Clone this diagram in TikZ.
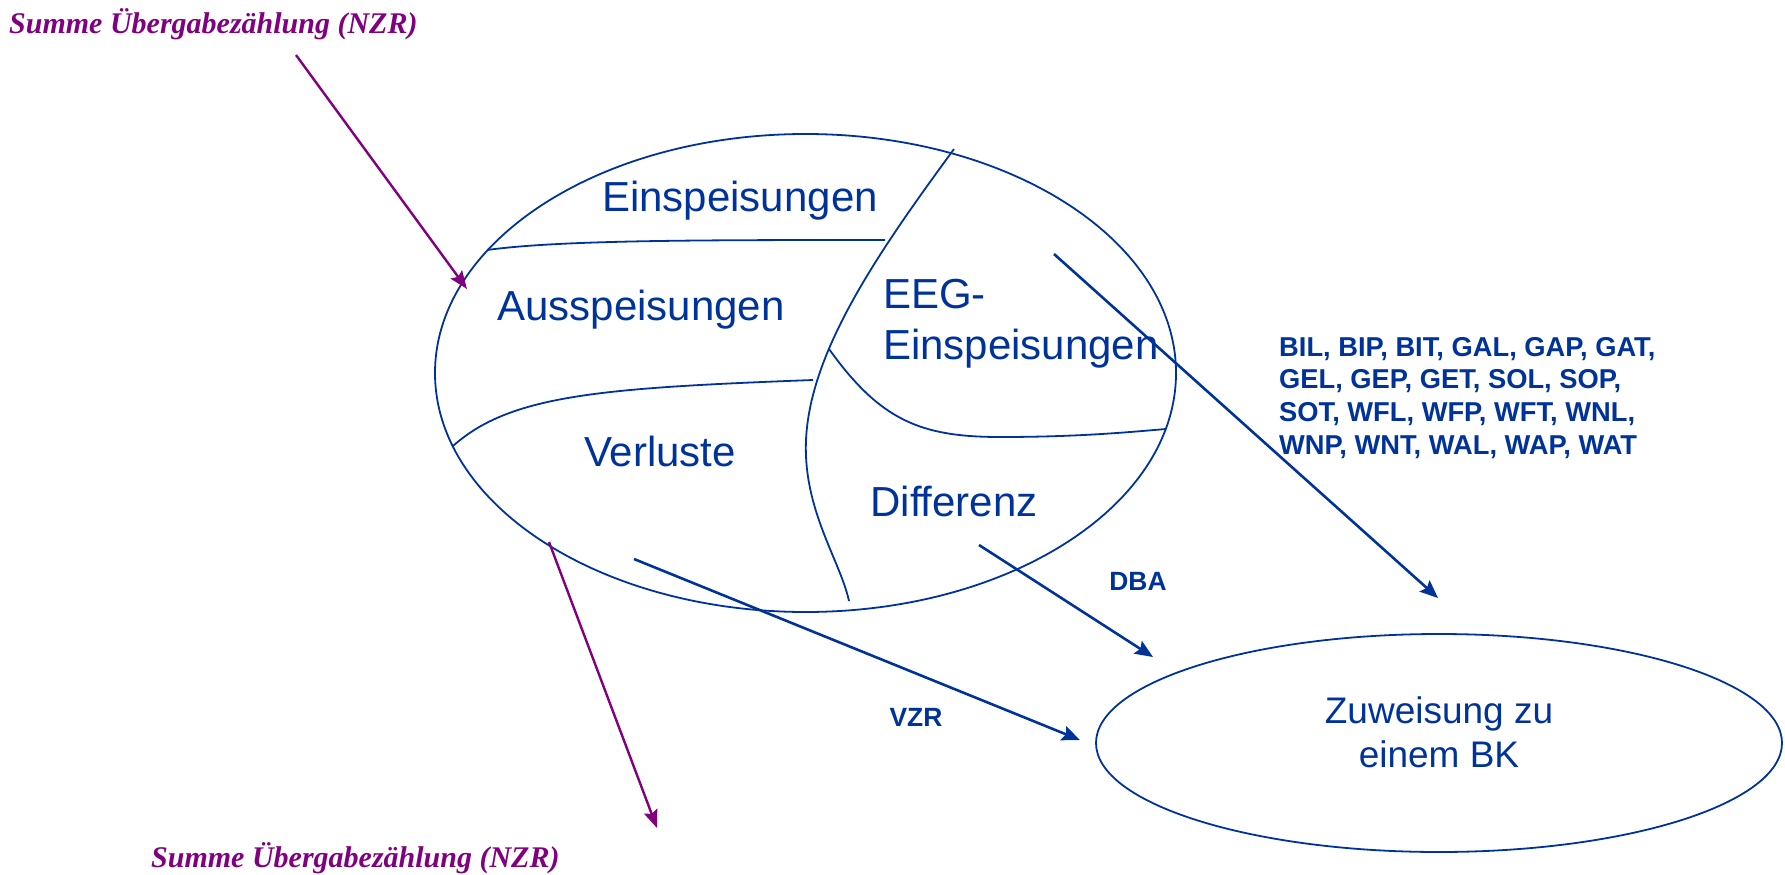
\documentclass[tikz,border=0pt]{standalone}
\usepackage{fontspec}
\setmainfont{Liberation Sans}
\newfontfamily\nzrfont{Liberation Serif}
\usetikzlibrary{arrows.meta,shapes.geometric}
\definecolor{navy}{RGB}{0,51,153}
\definecolor{lilac}{RGB}{128,0,128}
\tikzset{
  outline/.style={draw=navy, line width=1.8pt},
  divider/.style={draw=navy, line width=1.8pt},
  navyarrow/.style={draw=navy, line width=2.6pt, -{Stealth[length=18pt,width=15pt,inset=3pt]}},
  purplearrow/.style={draw=lilac, line width=2.4pt, -{Stealth[length=18pt,width=14pt,inset=3pt]}},
  region/.style={text=navy, font=\fontsize{42}{48}\selectfont, inner sep=0pt},
  codes/.style={text=navy, font=\bfseries\fontsize{27.3}{32.6}\selectfont, inner sep=0pt},
  shortcode/.style={text=navy, font=\bfseries\fontsize{26.4}{32.6}\selectfont, inner sep=0pt},
  nzr/.style={text=lilac, font=\nzrfont\bfseries\itshape\fontsize{30}{36}\selectfont, inner sep=0pt}
}
\begin{document}
\begin{tikzpicture}[x=1pt,y=-1pt]
\useasboundingbox (0,0) rectangle (1785,875);
% big ellipse
\node[ellipse, outline, minimum width=741pt, minimum height=478pt, inner sep=0pt, outer sep=0pt] (big) at (805.5,373) {};
% dividers
\draw[divider] (487,250) .. controls (560,240) and (700,240) .. (885,240);
\draw[divider] (954,149) .. controls (880,250) and (810,350) .. (806,440) .. controls (803,510) and (840,560) .. (849,601);
\draw[divider] (453,446) .. controls (510,395) and (600,388) .. (813,380);
\draw[divider] (829,349) .. controls (880,420) and (920,437) .. (1000,437) .. controls (1080,437) and (1130,432) .. (1166,429);
% region labels
\node[region, anchor=base] (einsp) at (740,211) {Einspeisungen};
\node[region, anchor=base] (aussp) at (641,320) {Ausspeisungen};
\node[region, anchor=base west] (eeg1) at (883,308) {EEG-};
\node[region, anchor=base west] (eeg2) at (883,359) {Einspeisungen};
\node[region, anchor=base] (verl) at (660,466) {Verluste};
\node[region, anchor=base] (diff) at (954,516) {Differenz};
% assignment ellipse
\node[ellipse, outline, minimum width=686pt, minimum height=218pt, inner sep=0pt, outer sep=0pt] (bk) at (1439,743) {};
\node[text=navy, font=\fontsize{37}{44}\selectfont, inner sep=0pt, anchor=base] (bk1) at (1439,723) {Zuweisung zu};
\node[text=navy, font=\fontsize{37}{44}\selectfont, inner sep=0pt, anchor=base] (bk2) at (1439,767) {einem BK};
% code labels
\node[codes, anchor=base west] (c1) at (1279,356) {BIL, BIP, BIT, GAL, GAP, GAT,};
\node[codes, anchor=base west] (c2) at (1279,388) {GEL, GEP, GET, SOL, SOP,};
\node[codes, anchor=base west] (c3) at (1279,421) {SOT, WFL, WFP, WFT, WNL,};
\node[codes, anchor=base west] (c4) at (1279,454) {WNP, WNT, WAL, WAP, WAT};
\node[shortcode, anchor=base] (dba) at (1138,590) {DBA};
\node[shortcode, anchor=base] (vzr) at (916,726) {VZR};
% NZR labels
\node[nzr, anchor=base west] (nzrtop) at (9,34) {Summe Übergabezählung (NZR)};
\node[nzr, anchor=base west] (nzrbot) at (151,867) {Summe Übergabezählung (NZR)};
% arrow end points
\coordinate (eegS) at (1054,254);
\coordinate (eegE) at (1438,598);
\coordinate (diffS) at (979,545);
\coordinate (diffE) at (1153,657);
\coordinate (verlS) at (634,559);
\coordinate (verlE) at (1080,740);
\coordinate (inS) at (296,55);
\coordinate (inE) at (467,289);
\coordinate (outS) at (549,542);
\coordinate (outE) at (657,828);
\draw[navyarrow] (eegS) -- (eegE);
\draw[navyarrow] (diffS) -- (diffE);
\draw[navyarrow] (verlS) -- (verlE);
\draw[purplearrow] (inS) -- (inE);
\draw[purplearrow] (outS) -- (outE);
\end{tikzpicture}
\end{document}
